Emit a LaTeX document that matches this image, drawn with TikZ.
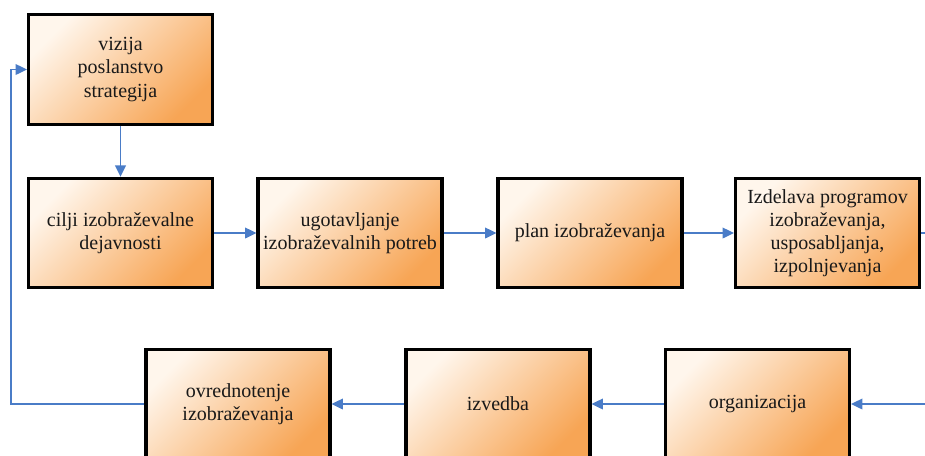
\documentclass[tikz,border=0pt]{standalone}
\usepackage{fontspec}
\setmainfont{Liberation Serif}
\usetikzlibrary{arrows.meta}
\definecolor{boxlight}{HTML}{FFF6EC}
\definecolor{boxmid}{HTML}{FBC793}
\definecolor{boxdark}{HTML}{F7A555}
\definecolor{flow}{HTML}{4A7CC7}
\begin{document}
\begin{tikzpicture}[x=0.75pt,y=-0.75pt,
  stage/.style={draw=black, line width=2.3pt, minimum width=138pt,
    minimum height=82pt, inner sep=0pt, align=center,
    top color=boxlight, middle color=boxmid, bottom color=boxdark,
    shading angle=45, text=black!90,
    font=\fontsize{15}{17.3}\selectfont},
  flowline/.style={draw=flow, line width=1.1pt,
    -{Triangle[length=8.5pt,width=8pt]}},
  plainline/.style={draw=flow, line width=1.1pt}]
\useasboundingbox (0,0) rectangle (925,455);
\clip (0,0) rectangle (925,455);

% planning row
\node[stage] (s0) at (120.5,69.5) {vizija\\poslanstvo\\strategija};
\node[stage] (s1) at (120.5,233) {cilji izobraževalne\\dejavnosti};
\node[stage] (s2) at (350,233) {ugotavljanje\\izobraževalnih potreb};
\node[stage] (s3) at (590,233) {plan izobraževanja};
\node[stage] (s4) at (827.5,233) {Izdelava programov\\izobraževanja,\\usposabljanja,\\izpolnjevanja};

% execution row
\node[stage] (s5) at (757.5,404) {organizacija};
\node[stage] (s6) at (498,404) {izvedba};
\node[stage] (s7) at (238,404) {ovrednotenje\\izobraževanja};

\coordinate (outR) at (925,233);
\coordinate (inR) at (925,404);
\coordinate (loop) at (11,69.5);

\draw[flowline] (s0) -- (s1);
\draw[flowline] (s1) -- (s2);
\draw[flowline] (s2) -- (s3);
\draw[flowline] (s3) -- (s4);
\draw[plainline] (s4) -- (outR);
\draw[flowline] (inR) -- (s5);
\draw[flowline] (s5) -- (s6);
\draw[flowline] (s6) -- (s7);
\draw[flowline] (s7.west) -| (loop) -- (s0.west);
\end{tikzpicture}
\end{document}
